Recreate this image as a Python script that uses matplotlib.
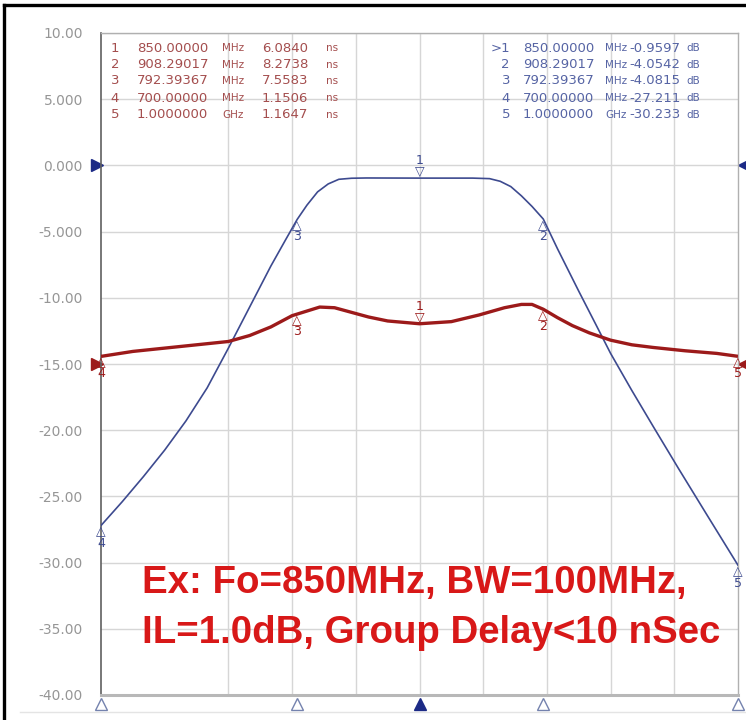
import matplotlib
matplotlib.use("Agg")
import matplotlib.pyplot as plt
import matplotlib.transforms as mtransforms
from matplotlib.lines import Line2D

# ---------------- data ----------------
# S21 magnitude trace (dB)
freq_s21_mhz = [700, 710, 720, 730, 740, 750, 760, 770, 780, 787, 792.39, 797, 802, 807, 812,
                818, 825, 850, 875, 883, 888, 893, 898, 903, 908.29, 915, 925, 933, 940,
                950, 960, 972, 985, 1000]
s21_db = [-27.2, -25.4, -23.5, -21.5, -19.3, -16.8, -13.8, -10.7, -7.6, -5.6, -4.08, -3.0, -2.0,
          -1.4, -1.05, -0.97, -0.95, -0.96, -0.96, -1.0, -1.2, -1.6, -2.3, -3.1, -4.05, -6.3,
          -9.5, -12.0, -14.2, -17.0, -19.7, -22.9, -26.3, -30.2]

# Group delay trace (ns)
freq_gd_mhz = [700, 715, 730, 745, 760, 770, 780, 790, 797, 803, 810, 818, 826, 835, 850, 865,
               878, 890, 898, 903, 908.29, 915, 922, 930, 940, 950, 960, 975, 990, 1000]
gd_ns = [1.15, 1.9, 2.4, 2.9, 3.4, 4.3, 5.6, 7.3, 8.0, 8.6, 8.5, 7.8, 7.1, 6.5, 6.08, 6.4,
         7.4, 8.5, 9.0, 9.0, 8.27, 7.0, 5.8, 4.7, 3.6, 2.9, 2.5, 2.0, 1.6, 1.16]

# Markers
marker_ids = ["1", "2", "3", "4", "5"]
marker_freq_mhz = [850.0, 908.29017, 792.39367, 700.0, 1000.0]
marker_freq_text = ["850.00000", "908.29017", "792.39367", "700.00000", "1.0000000"]
marker_freq_unit = ["MHz", "MHz", "MHz", "MHz", "GHz"]
marker_s21_db = [-0.9597, -4.0542, -4.0815, -27.211, -30.233]
marker_s21_text = ["-0.9597", "-4.0542", "-4.0815", "-27.211", "-30.233"]
marker_gd_ns = [6.0840, 8.2738, 7.5583, 1.1506, 1.1647]
marker_gd_text = ["6.0840", "8.2738", "7.5583", "1.1506", "1.1647"]

# Axes
y_ticks = [10, 5, 0, -5, -10, -15, -20, -25, -30, -35, -40]
y_tick_labels = ["10.00", "5.000", "0.000", "-5.000", "-10.00", "-15.00", "-20.00",
                 "-25.00", "-30.00", "-35.00", "-40.00"]
x_grid_mhz = [760, 790, 820, 850, 880, 910, 940, 970]
s21_ref_db = 0.0
gd_ref_pos_db = -15.0     # reference position of the delay trace on the screen
gd_scale_ns_per_div = 10.0
db_per_div = 5.0

note_lines = ["Ex: Fo=850MHz, BW=100MHz,", "IL=1.0dB, Group Delay<10 nSec"]

# ---------------- style ----------------
BLUE = "#3d4a8f"
NAVY = "#1c2a86"
RED = "#9c1a1a"
TABLE_RED = "#a44e4e"
TABLE_BLUE = "#5664a4"
GRID = "#d6d6d6"
NOTE_RED = "#d81818"

fig = plt.figure(figsize=(7.46, 7.20), dpi=100)
fig.patch.set_facecolor("white")
ax = fig.add_axes([101 / 746, 25 / 720, 637 / 746, 662 / 720])

ax.set_xlim(700, 1000)
ax.set_ylim(-40, 10)
ax.set_yticks(y_ticks)
ax.set_yticklabels(y_tick_labels)
ax.set_xticks(x_grid_mhz)
ax.set_xticklabels([])
ax.tick_params(axis="both", length=0)
ax.tick_params(axis="y", pad=13, labelsize=10, labelcolor="#969696")
ax.grid(True, color=GRID, linewidth=1.0)
ax.set_axisbelow(True)
for side, sp in ax.spines.items():
    sp.set_color("#b0b0b0")
    sp.set_linewidth(1.0)
ax.spines["left"].set_color("#606060")
ax.spines["left"].set_linewidth(1.2)
ax.spines["bottom"].set_color("#b8b8b8")
ax.spines["bottom"].set_linewidth(2.2)

# Group delay on its own scale, mapped onto the same screen divisions
ax2 = ax.twinx()
lo_div = (-40 - gd_ref_pos_db) / db_per_div
hi_div = (10 - gd_ref_pos_db) / db_per_div
ax2.set_ylim(lo_div * gd_scale_ns_per_div, hi_div * gd_scale_ns_per_div)
ax2.set_yticks([])
for sp in ax2.spines.values():
    sp.set_visible(False)

ax.plot(freq_s21_mhz, s21_db, color=BLUE, linewidth=1.2, zorder=3)
ax2.plot(freq_gd_mhz, gd_ns, color=RED, linewidth=2.4, zorder=2, solid_capstyle="butt")

# Marker glyphs on traces
def put_markers(a, vals, color):
    for mid, f, v in zip(marker_ids, marker_freq_mhz, vals):
        if mid == "1":
            a.annotate(mid + "\n\u25BD", (f, v), xytext=(0, 0), textcoords="offset points",
                       ha="center", va="bottom", fontsize=9, color=color, linespacing=0.8,
                       annotation_clip=False)
        else:
            a.annotate("\u25B3\n" + mid, (f, v), xytext=(0, 0), textcoords="offset points",
                       ha="center", va="top", fontsize=9, color=color, linespacing=0.8,
                       annotation_clip=False)

put_markers(ax, marker_s21_db, BLUE)
put_markers(ax2, marker_gd_ns, RED)

# Bottom stimulus triangles
tb = mtransforms.blended_transform_factory(ax.transData, ax.transAxes)
for mid, f in zip(marker_ids, marker_freq_mhz):
    ax.plot([f], [-0.013], transform=tb, marker="^", markersize=8,
            markerfacecolor=(NAVY if mid == "1" else "white"),
            markeredgecolor=(NAVY if mid == "1" else "#7482ae"), markeredgewidth=1.0,
            clip_on=False, zorder=5)

# Reference position triangles on left and right edges
ts1 = mtransforms.blended_transform_factory(ax.transAxes, ax.transData)
ax.plot([-0.007], [s21_ref_db], transform=ts1, marker=">", markersize=8, color=NAVY, clip_on=False)
ax.plot([1.009], [s21_ref_db], transform=ts1, marker="<", markersize=8, color=NAVY, clip_on=False)
ax.plot([-0.007], [gd_ref_pos_db], transform=ts1, marker=">", markersize=8, color=RED, clip_on=False)
ax.plot([1.009], [gd_ref_pos_db], transform=ts1, marker="<", markersize=8, color=RED, clip_on=False)

# Marker tables
def px_to_ax(xpx, ypx):
    return (xpx - 101) / 637, (695 - ypx) / 662

row_px = [48, 64.5, 81, 98, 115]
nfs = 9.5
ufs = 7.5
for i, ypx in enumerate(row_px):
    # left table (group delay)
    for xpx, txt, ha, fs in [(115, marker_ids[i], "center", nfs),
                             (137, marker_freq_text[i], "left", nfs),
                             (222, marker_freq_unit[i], "left", ufs),
                             (262, marker_gd_text[i], "left", nfs),
                             (326, "ns", "left", ufs)]:
        xa, ya = px_to_ax(xpx, ypx)
        ax.text(xa, ya, txt, transform=ax.transAxes, ha=ha, va="center", fontsize=fs,
                color=TABLE_RED, family="DejaVu Sans")
    # right table (S21)
    rid = (">" if i == 0 else "") + marker_ids[i]
    for xpx, txt, ha, fs in [(510, rid, "right", nfs),
                             (523, marker_freq_text[i], "left", nfs),
                             (605, marker_freq_unit[i], "left", ufs),
                             (629, marker_s21_text[i], "left", nfs),
                             (686, "dB", "left", ufs)]:
        xa, ya = px_to_ax(xpx, ypx)
        ax.text(xa, ya, txt, transform=ax.transAxes, ha=ha, va="center", fontsize=fs,
                color=TABLE_BLUE, family="DejaVu Sans")

# Big red note
for txt, ypx in zip(note_lines, [593, 643]):
    xa, ya = px_to_ax(142, ypx)
    ax.text(xa, ya, txt, transform=ax.transAxes, ha="left", va="baseline", fontsize=27.6,
            fontweight="bold", color=NOTE_RED, family="Liberation Sans", zorder=6)

# Outer black frame (top and left) and faint bottom rule
fig.add_artist(Line2D([4 / 746, 1.0], [1 - 5 / 720, 1 - 5 / 720], transform=fig.transFigure,
                      color="black", linewidth=2.4))
fig.add_artist(Line2D([4 / 746, 4 / 746], [0, 1 - 5 / 720], transform=fig.transFigure,
                      color="black", linewidth=2.4))
fig.add_artist(Line2D([20 / 746, 1.0], [8 / 720, 8 / 720], transform=fig.transFigure,
                      color="#e4e4e4", linewidth=1.0))

fig.savefig("out.png", dpi=100, facecolor="white")
